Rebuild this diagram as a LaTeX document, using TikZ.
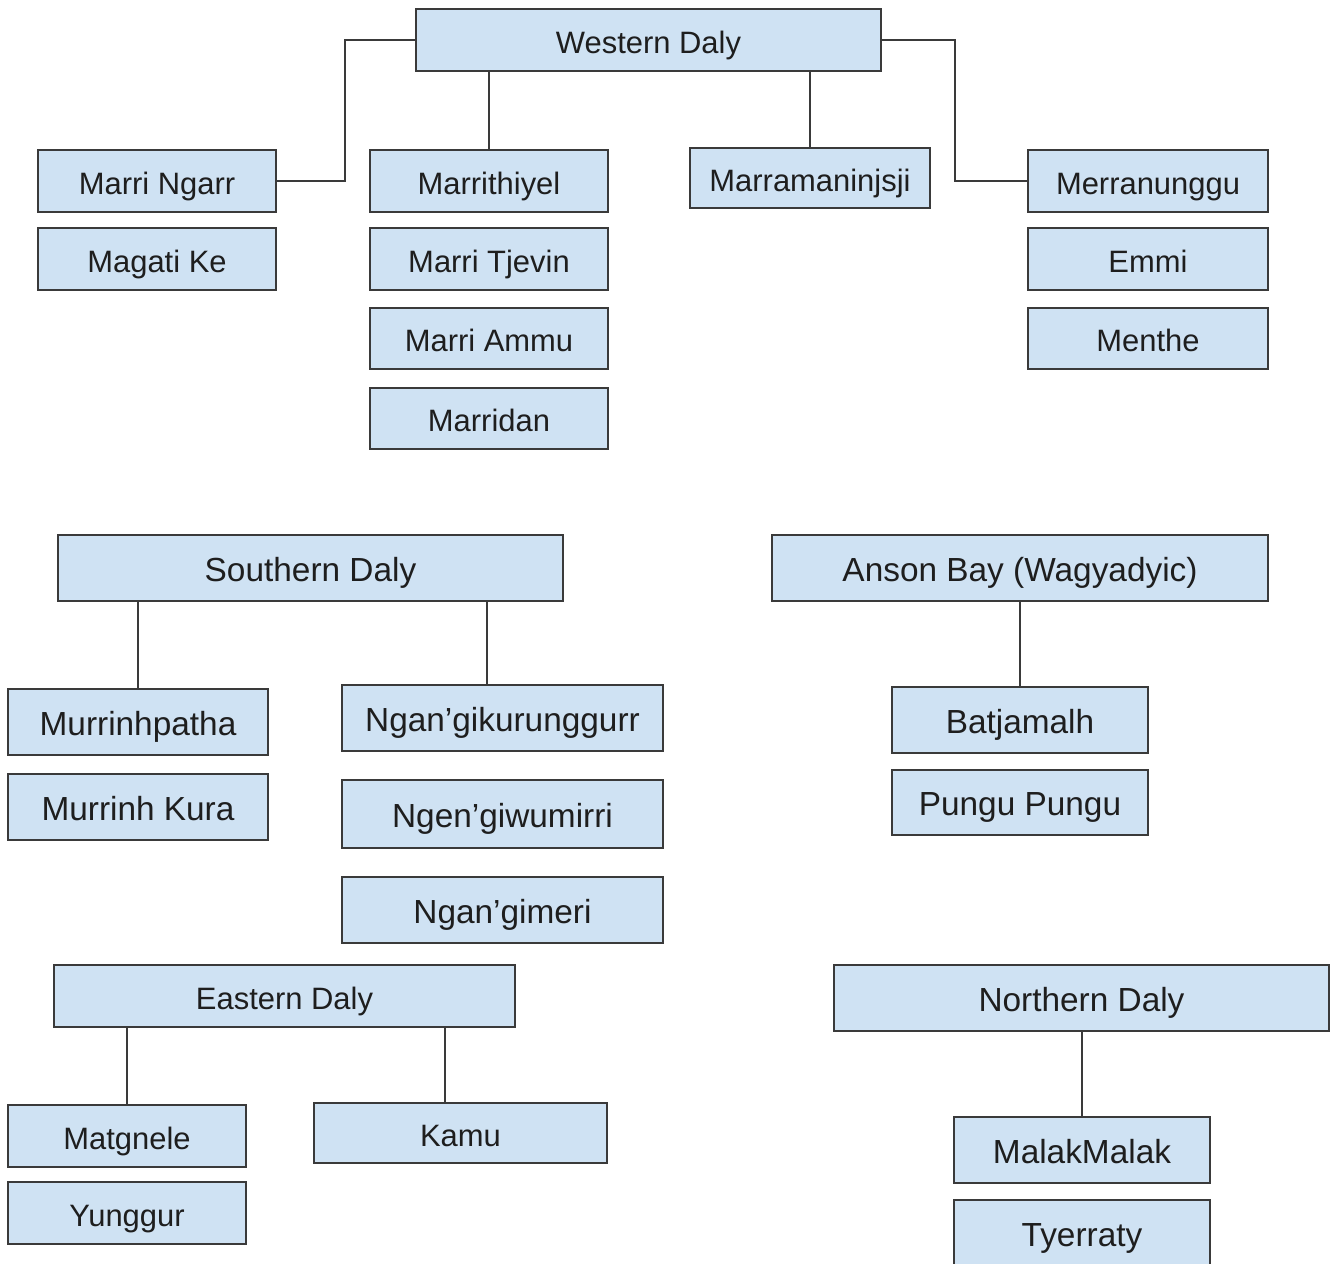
\documentclass[tikz,border=0pt]{standalone}
\usepackage{fontspec}
\setmainfont{Liberation Sans}
\definecolor{boxblue}{HTML}{CFE2F3}
\definecolor{linegray}{HTML}{3A3A3A}
\definecolor{textgray}{HTML}{1E1E1E}
\tikzset{
	langbox/.style={draw=linegray, fill=boxblue, line width=0.6pt, inner sep=0pt,
		text=textgray, text height=0.82em, text depth=0.08em},
	smallbox/.style={langbox, font=\fontsize{8.8}{10}\selectfont},
	bigbox/.style={langbox, font=\fontsize{9.5}{11}\selectfont},
	link/.style={draw=linegray, line width=0.6pt}
}
\begin{document}
\begin{tikzpicture}[x=1cm, y=-1cm]
	\useasboundingbox (0,0) rectangle (13.3,12.64);

	% Western Daly
	\node[smallbox, minimum width=4.65cm, minimum height=0.62cm] at (6.485,0.40) (wd) {Western Daly};
	\node[smallbox, minimum width=2.38cm, minimum height=0.62cm] at (1.57,1.81) (mngarr) {Marri Ngarr};
	\node[smallbox, minimum width=2.38cm, minimum height=0.62cm] at (1.57,2.59) (magati) {Magati Ke};
	\node[smallbox, minimum width=2.38cm, minimum height=0.62cm] at (4.89,1.81) (mthiyel) {Marrithiyel};
	\node[smallbox, minimum width=2.38cm, minimum height=0.62cm] at (4.89,2.59) (mtjevin) {Marri Tjevin};
	\node[smallbox, minimum width=2.38cm, minimum height=0.61cm] at (4.89,3.385) (mammu) {Marri Ammu};
	\node[smallbox, minimum width=2.38cm, minimum height=0.61cm] at (4.89,4.185) (mdan) {Marridan};
	\node[smallbox, minimum width=2.40cm, minimum height=0.60cm] at (8.10,1.78) (mmsji) {Marramaninjsji};
	\node[smallbox, minimum width=2.40cm, minimum height=0.62cm] at (11.48,1.81) (merr) {Merranunggu};
	\node[smallbox, minimum width=2.40cm, minimum height=0.62cm] at (11.48,2.59) (emmi) {Emmi};
	\node[smallbox, minimum width=2.40cm, minimum height=0.61cm] at (11.48,3.385) (menthe) {Menthe};

	\draw[link] (wd.west) -- ++(-0.70,0) |- (mngarr.east); %left arm
	\draw[link] (wd.east) -- ++(0.73,0) |- (merr.west); %right arm
	\draw[link] (wd.south -| mthiyel.north) -- (mthiyel.north);
	\draw[link] (wd.south -| mmsji.north) -- (mmsji.north);

	% Southern Daly
	\node[bigbox, minimum width=5.05cm, minimum height=0.66cm] at (3.105,5.68) (sd) {Southern Daly};
	\node[bigbox, minimum width=2.60cm, minimum height=0.66cm] at (1.38,7.22) (mpatha) {Murrinhpatha};
	\node[bigbox, minimum width=2.60cm, minimum height=0.66cm] at (1.38,8.07) (mkura) {Murrinh Kura};
	\node[bigbox, minimum width=3.21cm, minimum height=0.66cm] at (5.025,7.18) (ngk) {Ngan’gikurunggurr};
	\node[bigbox, minimum width=3.21cm, minimum height=0.68cm] at (5.025,8.14) (ngw) {Ngen’giwumirri};
	\node[bigbox, minimum width=3.21cm, minimum height=0.66cm] at (5.025,9.10) (ngm) {Ngan’gimeri};

	\coordinate (ngktop) at ([xshift=-1.55mm]ngk.north);
	\draw[link] (sd.south -| mpatha.north) -- (mpatha.north);
	\draw[link] (sd.south -| ngktop) -- (ngktop);

	% Anson Bay
	\node[bigbox, minimum width=4.96cm, minimum height=0.66cm] at (10.20,5.68) (ab) {Anson Bay (Wagyadyic)};
	\node[bigbox, minimum width=2.56cm, minimum height=0.66cm] at (10.20,7.20) (batj) {Batjamalh};
	\node[bigbox, minimum width=2.56cm, minimum height=0.65cm] at (10.20,8.025) (pungu) {Pungu Pungu};

	\draw[link] (ab.south) -- (batj.north);

	% Eastern Daly
	\node[smallbox, minimum width=4.61cm, minimum height=0.62cm] at (2.845,9.96) (ed) {Eastern Daly};
	\node[smallbox, minimum width=2.38cm, minimum height=0.62cm] at (1.27,11.36) (matg) {Matgnele};
	\node[smallbox, minimum width=2.38cm, minimum height=0.62cm] at (1.27,12.13) (yung) {Yunggur};
	\node[smallbox, minimum width=2.93cm, minimum height=0.60cm] at (4.605,11.33) (kamu) {Kamu};

	\coordinate (kamutop) at ([xshift=-1.55mm]kamu.north);
	\draw[link] (ed.south -| matg.north) -- (matg.north);
	\draw[link] (ed.south -| kamutop) -- (kamutop);

	% Northern Daly
	\node[bigbox, minimum width=4.95cm, minimum height=0.66cm] at (10.815,9.98) (nd) {Northern Daly};
	\node[bigbox, minimum width=2.56cm, minimum height=0.66cm] at (10.82,11.50) (malak) {MalakMalak};
	\node[bigbox, minimum width=2.56cm, minimum height=0.66cm] at (10.82,12.33) (tyer) {Tyerraty};

	\draw[link] (nd.south -| malak.north) -- (malak.north);
\end{tikzpicture}
\end{document}
